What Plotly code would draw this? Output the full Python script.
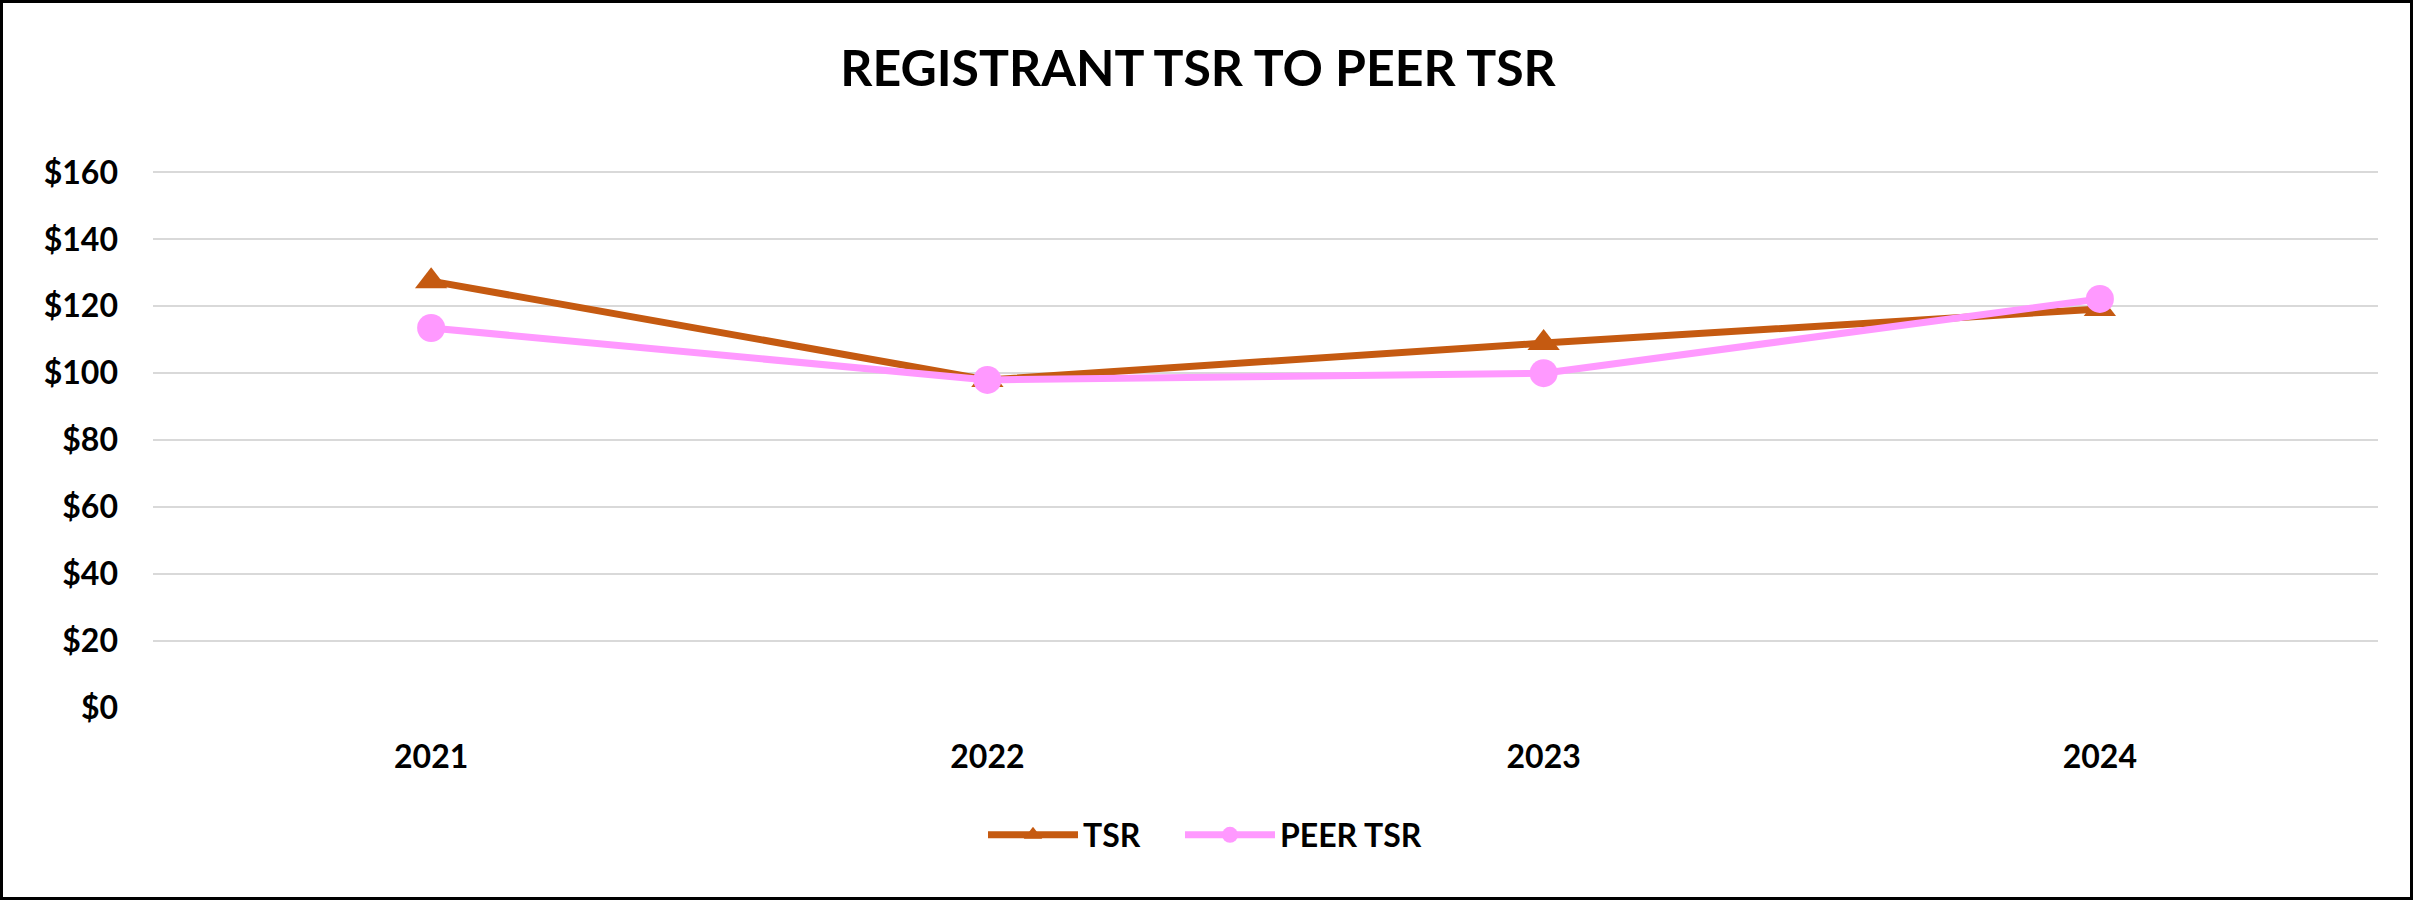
import plotly.graph_objects as go

years = ["2021", "2022", "2023", "2024"]
tsr = [127.5, 98.0, 109.0, 119.2]
peer_tsr = [113.5, 98.0, 100.0, 122.2]
y_ticks = [0, 20, 40, 60, 80, 100, 120, 140, 160]
y_tick_labels = ["$0", "$20", "$40", "$60", "$80", "$100", "$120", "$140", "$160"]

W, H = 2413, 900
ML, MR, MT, MB = 153, 35, 169, 192
PW, PH = W - ML - MR, H - MT - MB

FONT = "Lato, 'Open Sans', sans-serif"
TICKFONT = dict(family=FONT, size=32, color="black", weight="bold")

fig = go.Figure()
fig.add_trace(go.Scatter(
    x=years, y=tsr, name="TSR", mode="lines+markers",
    line=dict(color="#C55A11", width=7),
    marker=dict(symbol="triangle-up", size=28, color="#C55A11"),
    legend="legend",
))
fig.add_trace(go.Scatter(
    x=years, y=peer_tsr, name="PEER TSR", mode="lines+markers",
    line=dict(color="#FF99FF", width=7),
    marker=dict(symbol="circle", size=28, color="#FF99FF"),
    legend="legend2",
))

def px_x(p):
    return (p - ML) / PW

def px_y(p):
    return (H - MB - p) / PH

fig.add_shape(type="rect", xref="paper", yref="paper",
              x0=px_x(1.5), x1=px_x(W - 1.5), y0=px_y(H - 1.5), y1=px_y(1.5),
              line=dict(color="black", width=3), fillcolor="rgba(0,0,0,0)", layer="above")

legend_common = dict(orientation="h", yanchor="middle", y=px_y(835), xanchor="left",
                     itemwidth=90, bgcolor="rgba(0,0,0,0)",
                     font=dict(family=FONT, size=32, color="black", weight="bold"))

fig.update_layout(
    width=W, height=H,
    margin=dict(l=ML, r=MR, t=MT, b=MB, autoexpand=False),
    paper_bgcolor="white", plot_bgcolor="white",
    font=dict(family=FONT, size=32, color="black", weight="bold"),
    title=dict(text="REGISTRANT TSR TO PEER TSR", x=0.4965, xanchor="center",
               y=1 - 68 / H, yanchor="middle",
               font=dict(family=FONT, size=50, color="black", weight="bold")),
    xaxis=dict(type="category", showgrid=False, zeroline=False, showline=False,
               ticks="", ticklabelstandoff=27, range=[-0.5, 3.5], tickfont=TICKFONT),
    yaxis=dict(range=[0, 161], tickvals=y_ticks, ticktext=y_tick_labels,
               showgrid=True, gridcolor="#D9D9D9", gridwidth=2, zeroline=False,
               showline=False, ticks="", ticklabelstandoff=34, tickfont=TICKFONT),
    legend=dict(x=px_x(983), **legend_common),
    legend2=dict(x=px_x(1180), **legend_common),
    showlegend=True,
)

fig.write_html("out.html")
